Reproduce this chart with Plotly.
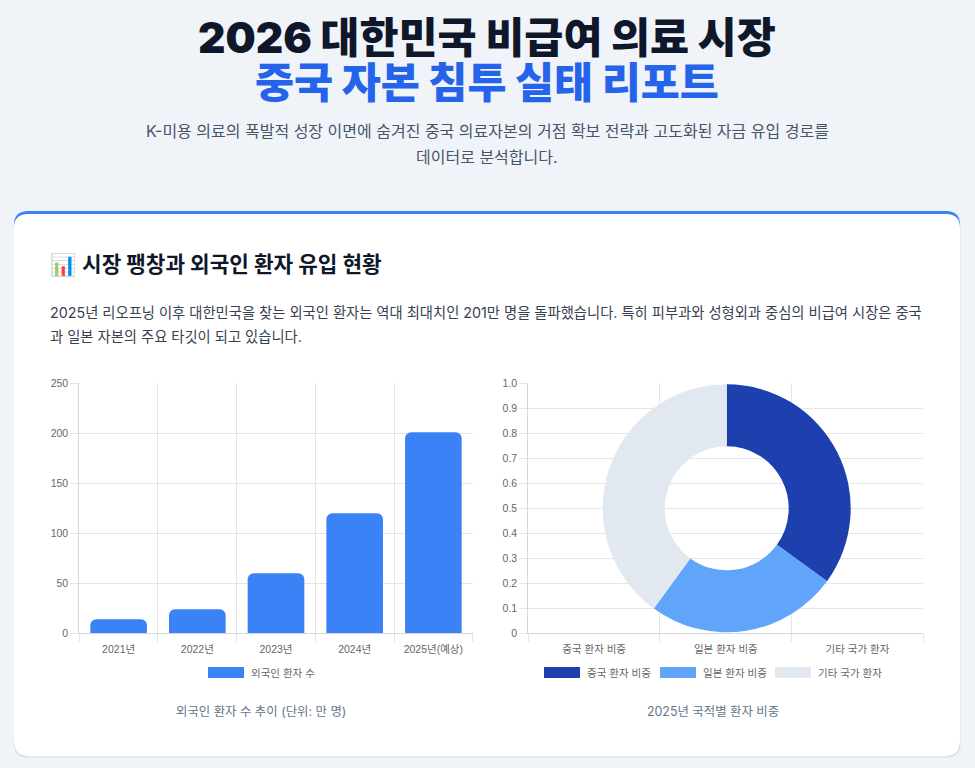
import plotly.graph_objects as go

# ---------------- data ----------------
years = ["2021년", "2022년", "2023년", "2024년", "2025년(예상)"]
patients = [14, 24, 60, 120, 201]          # 만 명
bar_series_name = "외국인 환자 수"

share_labels = ["중국 환자 비중", "일본 환자 비중", "기타 국가 환자"]
share_values = [35, 25, 40]
share_colors = ["#1e40af", "#60a5fa", "#e2e8f0"]

y2_ticks = [0, 0.1, 0.2, 0.3, 0.4, 0.5, 0.6, 0.7, 0.8, 0.9, 1.0]
y2_ticktext = ["0", "0.1", "0.2", "0.3", "0.4", "0.5", "0.6", "0.7", "0.8", "0.9", "1.0"]

title1 = "2026 대한민국 비급여 의료 시장"
title2 = "중국 자본 침투 실태 리포트"
subtitle1 = "K-미용 의료의 폭발적 성장 이면에 숨겨진 중국 의료자본의 거점 확보 전략과 고도화된 자금 유입 경로를"
subtitle2 = "데이터로 분석합니다."
heading = "📊 시장 팽창과 외국인 환자 유입 현황"
para1 = "2025년 리오프닝 이후 대한민국을 찾는 외국인 환자는 역대 최대치인 201만 명을 돌파했습니다. 특히 피부과와 성형외과 중심의 비급여 시장은 중국"
para2 = "과 일본 자본의 주요 타깃이 되고 있습니다."
caption_left = "외국인 환자 수 추이 (단위: 만 명)"
caption_right = "2025년 국적별 환자 비중"

# ---------------- layout helpers ----------------
W, H = 975, 768
def px(x): return x / W
def py(y): return 1 - y / H

def rrect(x0, y0, x1, y1, r):
    """rounded rect path in paper coords from pixel coords (y down)."""
    pts = [
        f"M {px(x0 + r)} {py(y0)}",
        f"L {px(x1 - r)} {py(y0)}",
        f"Q {px(x1)} {py(y0)} {px(x1)} {py(y0 + r)}",
        f"L {px(x1)} {py(y1 - r)}",
        f"Q {px(x1)} {py(y1)} {px(x1 - r)} {py(y1)}",
        f"L {px(x0 + r)} {py(y1)}",
        f"Q {px(x0)} {py(y1)} {px(x0)} {py(y1 - r)}",
        f"L {px(x0)} {py(y0 + r)}",
        f"Q {px(x0)} {py(y0)} {px(x0 + r)} {py(y0)}",
        "Z",
    ]
    return " ".join(pts)

KFONT = "Inter, 'Noto Sans CJK KR', sans-serif"
CFONT = "'Liberation Sans', Arial, 'Noto Sans CJK KR', sans-serif"
GRID = "#e5e5e5"
TICK = "#666666"
TS = 10.5

fig = go.Figure()

fig.add_trace(go.Bar(
    x=years, y=patients, name=bar_series_name,
    marker=dict(color="#3b82f6", cornerradius=6, line=dict(width=0)),
    xaxis="x", yaxis="y", showlegend=False, hoverinfo="x+y",
))

fig.add_trace(go.Pie(
    labels=share_labels, values=share_values,
    marker=dict(colors=share_colors, line=dict(width=0)),
    hole=0.5, sort=False, direction="clockwise", rotation=0,
    textinfo="none", showlegend=False,
    domain=dict(x=[px(602.7), px(850.7)], y=[py(632.3), py(384.3)]),
))

# invisible trace to materialise second cartesian axes
fig.add_trace(go.Scatter(x=share_labels, y=[None] * len(share_labels),
                         xaxis="x2", yaxis="y2", showlegend=False, hoverinfo="skip"))

axis_common = dict(showgrid=True, gridcolor=GRID, gridwidth=1, showline=True,
                   linecolor="#d6d6d6", linewidth=1, ticks="outside", ticklen=8,
                   tickcolor=GRID, tickfont=dict(family=CFONT, size=TS, color=TICK),
                   zeroline=False, fixedrange=True, automargin=False)

shapes = []
# card shadow + card
shapes.append(dict(type="path", path=rrect(14, 213, 961, 758, 14), xref="paper", yref="paper",
                   fillcolor="rgba(15,23,42,0.05)", line=dict(width=0), layer="below"))
shapes.append(dict(type="path", path=rrect(14, 211, 960, 756, 14), xref="paper", yref="paper",
                   fillcolor="#3b82f6", line=dict(width=0), layer="below"))
shapes.append(dict(type="path", path=rrect(14, 214, 960, 756, 14), xref="paper", yref="paper",
                   fillcolor="#ffffff", line=dict(width=0), layer="below"))

annotations = []
def ann(text, x, y, size, color, weight=400, family=KFONT, xanchor="center"):
    annotations.append(dict(text=text, x=px(x), y=py(y), xref="paper", yref="paper",
                            xanchor=xanchor, yanchor="middle", showarrow=False,
                            font=dict(family=family, size=size, color=color, weight=weight)))

ann(title1, 487, 38, 42.5, "#0f172a", 900)
ann(title2, 487, 83, 42.5, "#2563eb", 900)
ann(subtitle1, 487, 131, 16, "#475569")
ann(subtitle2, 487, 157, 16, "#475569")
ann(heading, 48, 264, 21.3, "#0f172a", 700, xanchor="left")
ann(para1, 48, 312, 14.3, "#374151", xanchor="left")
ann(para2, 48, 336, 14.3, "#374151", xanchor="left")
ann(caption_left, 261, 711, 12.4, "#64748b")
ann(caption_right, 713, 711, 12.4, "#64748b")

# legends (Chart.js style boxes)
def legend_item(x_box, label, color):
    shapes.append(dict(type="rect", xref="paper", yref="paper",
                       x0=px(x_box), x1=px(x_box + 36), y0=py(678), y1=py(667),
                       fillcolor=color, line=dict(width=0)))
    ann(label, x_box + 41, 673, TS, TICK, family=CFONT, xanchor="left")

legend_item(208, bar_series_name, "#3b82f6")
for xb, lab, col in zip([544, 660, 775], share_labels, share_colors):
    legend_item(xb, lab, col)

fig.update_layout(
    width=W, height=H, margin=dict(l=0, r=0, t=0, b=0, pad=0, autoexpand=False),
    paper_bgcolor="#f0f4f9", plot_bgcolor="rgba(0,0,0,0)",
    bargap=0.28, showlegend=False,
    xaxis=dict(domain=[px(79.3), px(472.7)], type="category", tickson="boundaries",
               range=[-0.5, len(years) - 0.5], anchor="y", ticklabelstandoff=6,
               **axis_common),
    yaxis=dict(domain=[py(633.3), py(383.3)], range=[0, 250], dtick=50, anchor="x",
               **axis_common),
    xaxis2=dict(domain=[px(528.3), px(923.3)], type="category", tickson="boundaries",
                anchor="y2", categoryorder="array", categoryarray=share_labels,
                range=[-0.5, len(share_labels) - 0.5], ticklabelstandoff=6,
                **axis_common),
    yaxis2=dict(domain=[py(633.3), py(383.3)], range=[0, 1], tickvals=y2_ticks,
                ticktext=y2_ticktext, anchor="x2", **axis_common),
    shapes=shapes, annotations=annotations,
)

fig.write_html(
    "out.html",
    config={"displayModeBar": False},
    post_script="document.body.style.margin='0';document.body.style.overflow='hidden';"
                "document.body.style.background='#f0f4f9';",
)
